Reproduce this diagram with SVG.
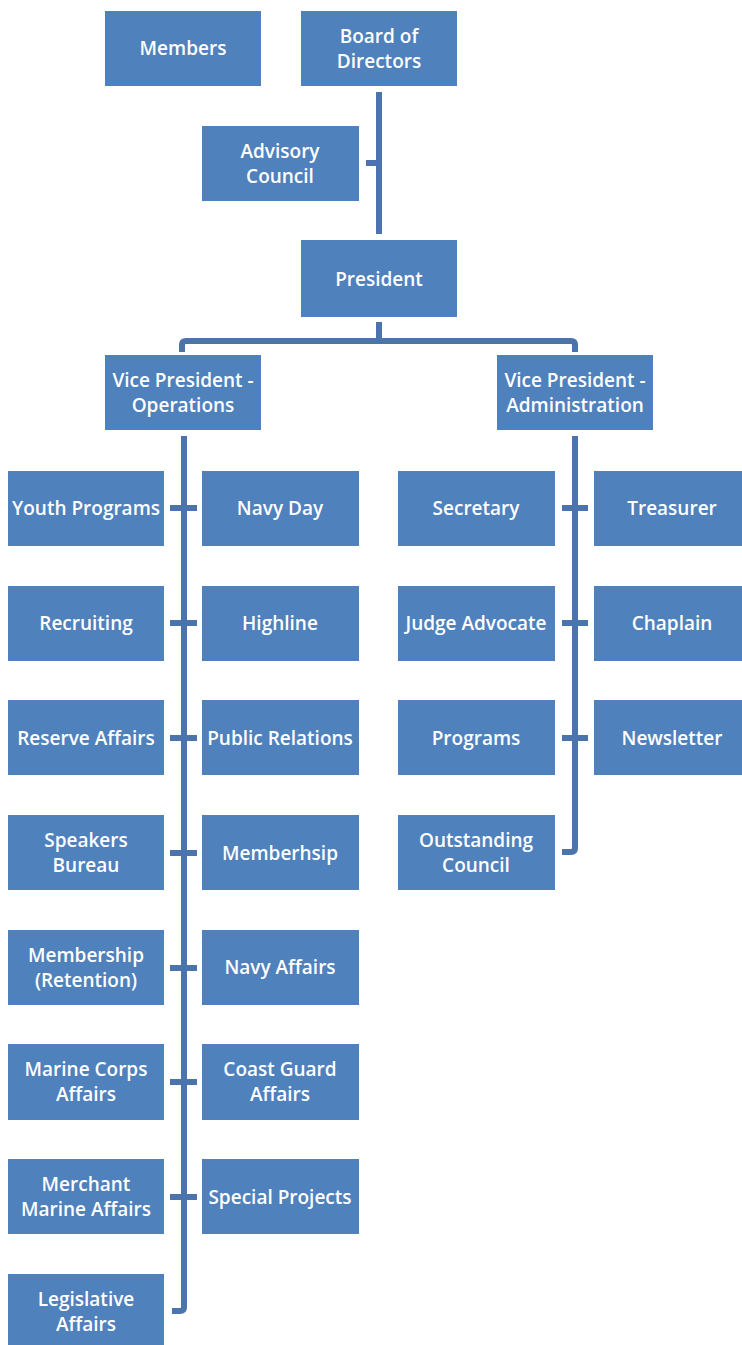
<svg xmlns="http://www.w3.org/2000/svg" width="742" height="1345" viewBox="0 0 742 1345">
<style>
.b{fill:#4F81BD;}
.t{fill:#FFFFFF;font-family:"Open Sans",Lato,sans-serif;font-size:19px;font-weight:600;text-anchor:middle;}
.c{fill:none;stroke:#4A74AB;stroke-width:6;stroke-linejoin:round;}
</style>
<rect width="742" height="1345" fill="#FFFFFF"/>
<g id="connectors">
<path class="c" d="M379,92 V234"/>
<path class="c" d="M366,163 H379"/>
<path class="c" d="M379,322 V341 M182,352 V345 Q182,341 186,341 H571 Q575,341 575,345 V352"/>
<path class="c" d="M184,436 V1307 Q184,1311 180,1311 H172"/>
<path class="c" d="M170,508 H197 M170,623 H197 M170,738 H197 M170,853 H197 M170,968 H197 M170,1082 H197 M170,1197 H197"/>
<path class="c" d="M575,436 V848 Q575,852 571,852 H562"/>
<path class="c" d="M562,508 H588 M562,623 H588 M562,738 H588"/>
</g>
<g id="members"><rect class="b" x="105" y="11" width="156" height="75"/><text class="t" x="183" y="55">Members</text></g>
<g id="board"><rect class="b" x="301" y="11" width="156" height="75"/><text class="t" x="379" y="43">Board of</text><text class="t" x="379" y="68">Directors</text></g>
<g id="advisory"><rect class="b" x="202" y="126" width="157" height="75"/><text class="t" x="280" y="158">Advisory</text><text class="t" x="280" y="183">Council</text></g>
<g id="president"><rect class="b" x="301" y="240" width="156" height="77"/><text class="t" x="379" y="286">President</text></g>
<g id="vp-ops"><rect class="b" x="105" y="355" width="156" height="75"/><text class="t" x="183" y="387">Vice President -</text><text class="t" x="183" y="412">Operations</text></g>
<g id="vp-admin"><rect class="b" x="497" y="355" width="156" height="75"/><text class="t" x="575" y="387">Vice President -</text><text class="t" x="575" y="412">Administration</text></g>

<g id="youth"><rect class="b" x="8" y="471" width="156" height="75"/><text class="t" x="86" y="515">Youth Programs</text></g>
<g id="navy-day"><rect class="b" x="202" y="471" width="157" height="75"/><text class="t" x="280" y="515">Navy Day</text></g>
<g id="recruiting"><rect class="b" x="8" y="586" width="156" height="75"/><text class="t" x="86" y="630">Recruiting</text></g>
<g id="highline"><rect class="b" x="202" y="586" width="157" height="75"/><text class="t" x="280" y="630">Highline</text></g>
<g id="reserve"><rect class="b" x="8" y="700" width="156" height="75"/><text class="t" x="86" y="745">Reserve Affairs</text></g>
<g id="public-relations"><rect class="b" x="202" y="700" width="157" height="75"/><text class="t" x="280" y="745">Public Relations</text></g>
<g id="speakers"><rect class="b" x="8" y="815" width="156" height="75"/><text class="t" x="86" y="847">Speakers</text><text class="t" x="86" y="872">Bureau</text></g>
<g id="memberhsip"><rect class="b" x="202" y="815" width="157" height="75"/><text class="t" x="280" y="860">Memberhsip</text></g>
<g id="membership-retention"><rect class="b" x="8" y="930" width="156" height="75"/><text class="t" x="86" y="962">Membership</text><text class="t" x="86" y="987">(Retention)</text></g>
<g id="navy-affairs"><rect class="b" x="202" y="930" width="157" height="75"/><text class="t" x="280" y="974">Navy Affairs</text></g>
<g id="marine-corps"><rect class="b" x="8" y="1044" width="156" height="76"/><text class="t" x="86" y="1076">Marine Corps</text><text class="t" x="86" y="1101">Affairs</text></g>
<g id="coast-guard"><rect class="b" x="202" y="1044" width="157" height="76"/><text class="t" x="280" y="1076">Coast Guard</text><text class="t" x="280" y="1101">Affairs</text></g>
<g id="merchant-marine"><rect class="b" x="8" y="1159" width="156" height="75"/><text class="t" x="86" y="1191">Merchant</text><text class="t" x="86" y="1216">Marine Affairs</text></g>
<g id="special-projects"><rect class="b" x="202" y="1159" width="157" height="75"/><text class="t" x="280" y="1204">Special Projects</text></g>
<g id="legislative"><rect class="b" x="8" y="1274" width="156" height="75"/><text class="t" x="86" y="1306">Legislative</text><text class="t" x="86" y="1331">Affairs</text></g>

<g id="secretary"><rect class="b" x="398" y="471" width="157" height="75"/><text class="t" x="476" y="515">Secretary</text></g>
<g id="treasurer"><rect class="b" x="594" y="471" width="148" height="75"/><text class="t" x="672" y="515">Treasurer</text></g>
<g id="judge-advocate"><rect class="b" x="398" y="586" width="157" height="75"/><text class="t" x="476" y="630">Judge Advocate</text></g>
<g id="chaplain"><rect class="b" x="594" y="586" width="148" height="75"/><text class="t" x="672" y="630">Chaplain</text></g>
<g id="programs"><rect class="b" x="398" y="700" width="157" height="75"/><text class="t" x="476" y="745">Programs</text></g>
<g id="newsletter"><rect class="b" x="594" y="700" width="148" height="75"/><text class="t" x="672" y="745">Newsletter</text></g>
<g id="outstanding"><rect class="b" x="398" y="815" width="157" height="75"/><text class="t" x="476" y="847">Outstanding</text><text class="t" x="476" y="872">Council</text></g>
</svg>
